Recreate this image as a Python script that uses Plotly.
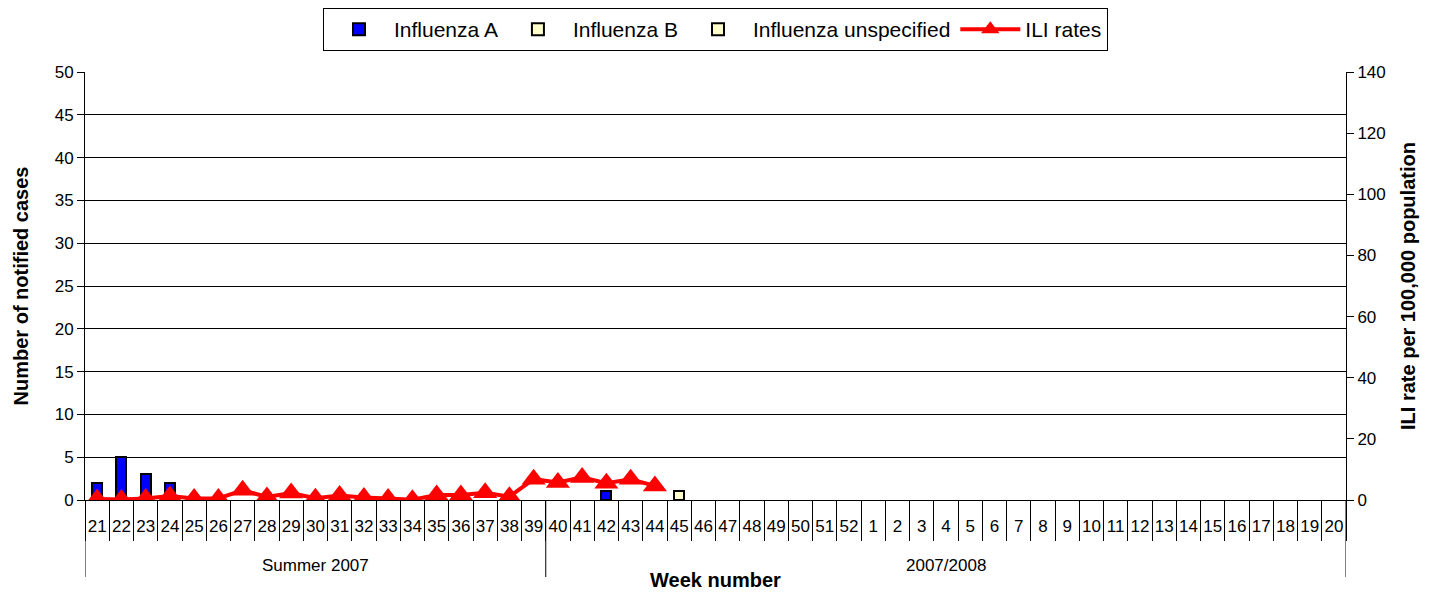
import plotly.graph_objects as go

weeks = ["21", "22", "23", "24", "25", "26", "27", "28", "29", "30", "31", "32", "33",
         "34", "35", "36", "37", "38", "39", "40", "41", "42", "43", "44", "45", "46",
         "47", "48", "49", "50", "51", "52", "1", "2", "3", "4", "5", "6", "7", "8",
         "9", "10", "11", "12", "13", "14", "15", "16", "17", "18", "19", "20"]
seasons = ["Summer 2007"] * 19 + ["2007/2008"] * 33

N = None
flu_a = [2, 5, 3, 2, N, N, N, N, N, N, N, N, N, N, N, N, N, N, N, N, N, 1, N, N, N, N,
         N, N, N, N, N, N, N, N, N, N, N, N, N, N, N, N, N, N, N, N, N, N, N, N, N, N]
flu_b = [N] * 52
flu_unspec = [N, N, N, N, N, N, N, N, N, N, N, N, N, N, N, N, N, N, N, N, N, N, N, N, 1, N,
              N, N, N, N, N, N, N, N, N, N, N, N, N, N, N, N, N, N, N, N, N, N, N, N, N, N]
ili = [0.3, 0.2, 0.5, 1.3, 0.5, 0.5, 3.2, 1.0, 2.3, 0.6, 1.5, 0.8, 0.5, 0.1, 1.6, 1.6,
       2.4, 1.1, 6.8, 5.7, 7.4, 5.5, 6.8, 4.6] + [N] * 28

FONT = "Liberation Sans, Arial, sans-serif"

fig = go.Figure()
fig.add_trace(go.Bar(x=weeks, y=flu_a, name="Influenza A", width=0.42,
                     marker=dict(color="#0000FF", line=dict(color="black", width=2))))
fig.add_trace(go.Bar(x=weeks, y=flu_b, name="Influenza B", width=0.42,
                     marker=dict(color="#FFFFCC", line=dict(color="black", width=2))))
fig.add_trace(go.Bar(x=weeks, y=flu_unspec, name="Influenza unspecified", width=0.42,
                     marker=dict(color="#FFFFCC", line=dict(color="black", width=2))))
fig.add_trace(go.Scatter(x=weeks, y=ili, name="ILI rates", yaxis="y2", mode="lines+markers",
                         line=dict(color="#FF0000", width=4),
                         marker=dict(symbol="triangle-up", size=21, color="#FF0000")))

# season groups: boundaries and centers derived from the seasons list
groups = []
start = 0
for i in range(1, len(seasons) + 1):
    if i == len(seasons) or seasons[i] != seasons[start]:
        groups.append((seasons[start], start, i - 1))
        start = i

shapes = []
annotations = []
bounds = sorted({g[1] - 0.5 for g in groups} | {g[2] + 0.5 for g in groups})
for b in bounds:
    shapes.append(dict(type="line", xref="x", yref="paper", x0=b, x1=b, y0=0, y1=-0.18,
                       line=dict(color="black", width=1)))
for name, s, e in groups:
    annotations.append(dict(text=name, x=(s + e) / 2, y=-0.152, xref="x", yref="paper",
                            showarrow=False, font=dict(size=17), xanchor="center",
                            yanchor="middle"))
annotations.append(dict(text="<b>Week number</b>", x=0.5, y=-0.187, xref="paper", yref="paper",
                        showarrow=False, font=dict(size=20), xanchor="center", yanchor="middle"))

fig.update_layout(
    width=1423, height=584,
    margin=dict(l=77, r=85, t=64, b=92),
    paper_bgcolor="white", plot_bgcolor="white",
    barmode="stack",
    font=dict(family=FONT, size=17, color="black"),
    showlegend=True,
    legend=dict(orientation="h", x=0.5, xanchor="center", y=1.0, yanchor="top",
                yref="container", bordercolor="black", borderwidth=1, bgcolor="white",
                font=dict(size=21), itemwidth=60, traceorder="normal"),
    xaxis=dict(type="category", range=[-0.5, 51.5], automargin=False,
               showline=True, linecolor="black", linewidth=1,
               ticks="outside", ticklen=40, tickcolor="black", tickson="boundaries",
               ticklabelstandoff=11, tickangle=0,
               showgrid=False, tickfont=dict(size=17)),
    yaxis=dict(range=[0, 50], dtick=5, showgrid=True, gridcolor="black", gridwidth=1,
               showline=True, linecolor="black", ticks="outside", ticklen=7,
               tickcolor="black", zeroline=False, automargin=False,
               title=dict(text="<b>Number of notified cases</b>", font=dict(size=20),
                          standoff=20)),
    yaxis2=dict(range=[0, 140], dtick=20, overlaying="y", side="right",
                showgrid=False, showline=True, linecolor="black", ticks="outside",
                ticklen=7, tickcolor="black", zeroline=False, automargin=False,
                title=dict(text="<b>ILI rate per 100,000 population</b>", font=dict(size=20),
                           standoff=16)),
    shapes=shapes,
    annotations=annotations,
)

fig.write_html("out.html")
